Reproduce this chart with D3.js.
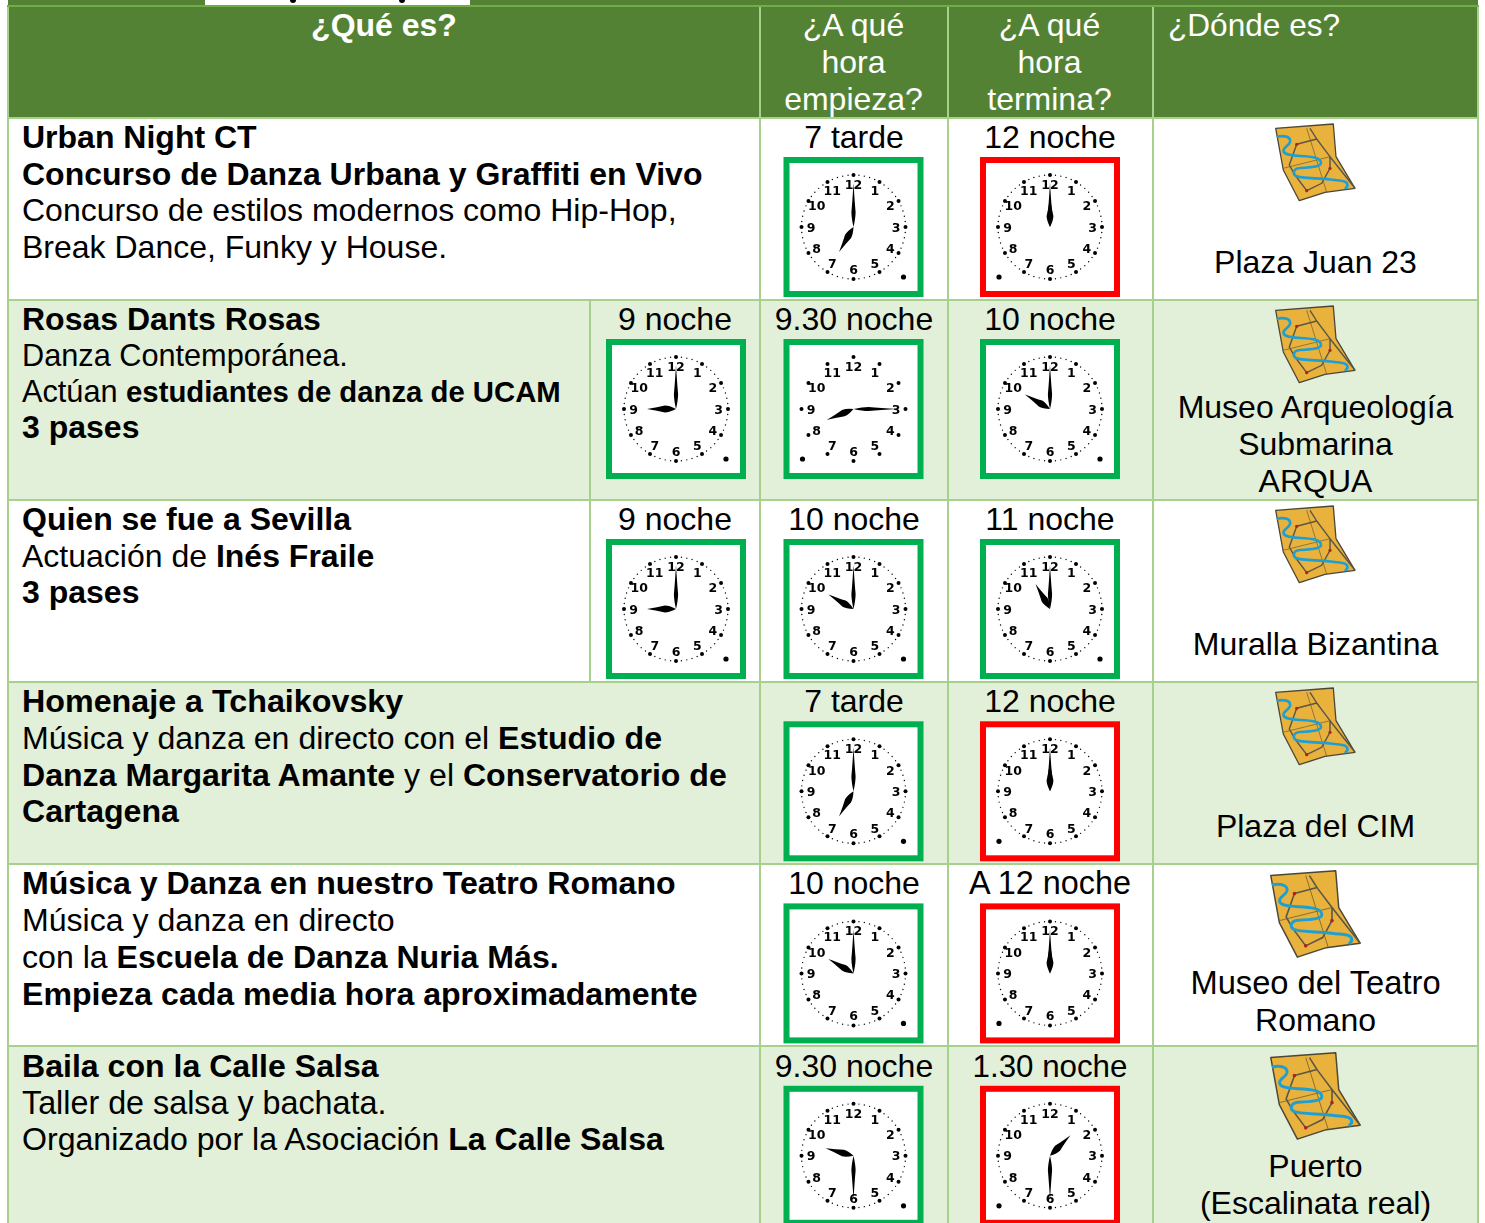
<!DOCTYPE html>
<html>
<head>
<meta charset="utf-8">
<script src="https://cdn.jsdelivr.net/npm/d3@7"></script>
<style>
  html, body { margin: 0; padding: 0; background: #fff; }
  svg { display: block; }
  text { font-family: "Liberation Sans", Arial, sans-serif; }
  .num { font-family: "DejaVu Sans", sans-serif; font-weight: bold; }
</style>
</head>
<body>
<svg id="chart"></svg>
<script>
const headers = ['¿Qué es?', '¿A qué|hora|empieza?', '¿A qué|hora|termina?', '¿Dónde es?'];

// ** marks the bold runs
const titles = [
  ['**Urban Night CT', '**Concurso de Danza Urbana y Graffiti en Vivo', 'Concurso de estilos modernos como Hip-Hop,', 'Break Dance, Funky y House.'],
  ['**Rosas Dants Rosas', 'Danza Contemporánea.', 'Actúan **estudiantes de danza de UCAM', '**3 pases'],
  ['**Quien se fue a Sevilla', 'Actuación de **Inés Fraile', '**3 pases'],
  ['**Homenaje a Tchaikovsky', 'Música y danza en directo con el **Estudio de', '**Danza Margarita Amante** y el **Conservatorio de', '**Cartagena'],
  ['**Música y Danza en nuestro Teatro Romano', 'Música y danza en directo', 'con la **Escuela de Danza Nuria Más.', '**Empieza cada media hora aproximadamente'],
  ['**Baila con la Calle Salsa', 'Taller de salsa y bachata.', 'Organizado por la Asociación **La Calle Salsa']
];
const places = [
  ['Plaza Juan 23'],
  ['Museo Arqueología', 'Submarina', 'ARQUA'],
  ['Muralla Bizantina'],
  ['Plaza del CIM'],
  ['Museo del Teatro', 'Romano'],
  ['Puerto', '(Escalinata real)']
];
// [label, hour, minute, side of the dot]
const extraClocks = [null, ['9 noche', 9, 0, 'r'], ['9 noche', 9, 0, 'r'], null, null, null];
const startClocks = [['7 tarde', 7, 0, 'r'], ['9.30 noche', 8, 15, 'l'], ['10 noche', 10, 0, 'r'], ['7 tarde', 7, 0, 'r'], ['10 noche', 10, 0, 'r'], ['9.30 noche', 9, 30, 'r']];
const endClocks = [['12 noche', 12, 0, 'l'], ['10 noche', 10, 0, 'r'], ['11 noche', 11, 0, 'r'], ['12 noche', 12, 0, 'l'], ['A 12 noche', 12, 0, 'l'], ['1.30 noche', 1, 30, 'l']];
const frameColors = [
  ['#00b050', '#ff0000'], ['#00b050', '#00b050'], ['#00b050', '#00b050'],
  ['#00b050', '#ff0000'], ['#00b050', '#ff0000'], ['#00b050', '#ff0000']
];
const rowEdges = [118, 300, 500, 682, 864, 1046, 1228];
const colEdges = [8, 760, 948, 1153, 1478];

const width = 1485, height = 1223;
const green = '#548235', line = '#a8d08d', tint = '#e2efd9';

// type sizes and line steps drift a little from row to row in the source
const rowFont = [32, 32, 32, 32.1, 32.1, 32.1];
const rowStep = [36.7, 36, 36.6, 36.6, 37, 36.7];
const rowNudge = [0, 0, 0, 0.3, 0.4, 0.8];
const runSizes = {
  'Danza Contemporánea.': 30.7,
  'Actúan ': 30.7,
  'estudiantes de danza de UCAM': 29.3,
  'Homenaje a Tchaikovsky': 32.25,
  'Taller de salsa y bachata.': 32.3,
  '1.30 noche': 31.3,
  'A 12 noche': 32.4,
  'Museo del Teatro': 32.7,
  '¿Dónde es?': 31.6
};
const sizeOf = (t, fallback) => runSizes[t] || fallback;

const svg = d3.select('#chart').attr('width', width).attr('height', height);

svg.append('defs').append('filter').attr('id', 'soft')
  .append('feGaussianBlur').attr('stdDeviation', 0.3);

const angle = d3.scaleLinear().domain([0, 12]).range([0, 360]);
const minuteAngle = d3.scaleLinear().domain([0, 60]).range([0, 360]);
const hands = {
  hour: { len: 29, wide: 3.4, at: 11 },
  minute: { len: 44, wide: 2.1, at: 15 }
};

function handPath(h) {
  const p = d3.path();
  p.moveTo(0, 0);
  p.quadraticCurveTo(h.wide, -h.at * 0.6, h.wide, -h.at);
  p.quadraticCurveTo(h.wide * 0.5, -h.at - (h.len - h.at) * 0.4, 0, -h.len);
  p.quadraticCurveTo(-h.wide * 0.5, -h.at - (h.len - h.at) * 0.4, -h.wide, -h.at);
  p.quadraticCurveTo(-h.wide, -h.at * 0.6, 0, 0);
  p.closePath();
  return p.toString();
}

function drawClock(g, cx, cy, color, c) {
  const [, hour, minute, side] = c;
  const clock = g.append('g').attr('transform', `translate(${cx},${cy})`);
  clock.append('rect')
    .attr('x', -67).attr('y', -67).attr('width', 134).attr('height', 134)
    .attr('fill', '#fff').attr('stroke', color).attr('stroke-width', 6);

  const polar = (deg, r) => [r * Math.sin(deg * Math.PI / 180), -r * Math.cos(deg * Math.PI / 180)];
  const face = clock.append('g').attr('filter', 'url(#soft)');

  // the 9.30 clock in row 2 was pasted without its minute dots
  const bare = hour === 8 && minute === 15;
  face.selectAll('.tick').data(bare ? d3.range(0, 60, 5) : d3.range(60)).enter().append('circle')
    .attr('cx', d => polar(minuteAngle(d), 52)[0])
    .attr('cy', d => polar(minuteAngle(d), 52)[1])
    .attr('r', d => d % 5 === 0 ? 2 : 0.7)
    .attr('fill', '#000');

  face.selectAll('.num').data(d3.range(1, 13)).enter().append('text')
    .attr('class', 'num')
    .attr('x', d => polar(angle(d), 42.5)[0])
    .attr('y', d => polar(angle(d), 42.5)[1] + 4.5)
    .attr('text-anchor', 'middle')
    .attr('font-size', 12.5)
    .attr('fill', '#000')
    .text(d => d);

  face.append('circle').attr('cx', side === 'r' ? 50 : -51).attr('cy', 50).attr('r', 2.6).attr('fill', '#000');

  face.append('path').attr('d', handPath(hands.hour))
    .attr('transform', `rotate(${angle(hour % 12 + minute / 60)})`);
  face.append('path').attr('d', handPath(hands.minute))
    .attr('transform', `rotate(${minuteAngle(minute)})`);
}

function drawMap(g, x, y, k) {
  const m = g.append('g').attr('filter', 'url(#soft)')
    .attr('transform', `translate(${x},${y}) scale(${k}) translate(-20,-9)`);
  m.append('path')
    .attr('d', 'M20.7 13.3 L78.3 9 L81 41.7 L100 73.3 L70 77.3 L44.3 85.7 L28.3 55 Z')
    .attr('fill', '#e8b23c').attr('stroke', '#4a4638').attr('stroke-width', 1.3).attr('stroke-linejoin', 'round');
  m.append('path')
    .attr('d', 'M51.7 13.3 L71.7 77.3 M28.3 53.3 L75 41.7')
    .attr('fill', 'none').attr('stroke', '#6b5e30').attr('stroke-width', 0.7);
  m.append('path')
    .attr('d', 'M41.7 29.3 L61.7 24 L55 13.3 M61.7 24 L75 41.7 L75 53.3 L66.7 68.3 L51.7 75.7 L40 60 L34.3 50 L41.7 29.3 M75 41.7 L100 73.3')
    .attr('fill', 'none').attr('stroke', '#5a5648').attr('stroke-width', 1.4);
  m.append('path')
    .attr('d', 'M21.7 21.7 C30 20 36 22 35 27 C34 31 28 32 28.5 36 C29 40 37 40.5 45 41 C55 41.5 66 42 66 48 C66 52 55 52.5 45 53 C38 53.5 37.5 59 41 61 C46 63.5 62 63 75 64.5 C86 66 93 65 92.5 71 L90 74')
    .attr('fill', 'none').attr('stroke', '#1f9fd2').attr('stroke-width', 2.6);
  m.selectAll('circle').data([[41.7, 29.3], [75, 53.3], [51.7, 75.7]]).enter().append('circle')
    .attr('cx', d => d[0]).attr('cy', d => d[1]).attr('r', 1.6).attr('fill', '#b5201c');
}

function addRuns(el, str, base) {
  str.split('**').forEach((run, i) => {
    if (!run) return;
    el.append('tspan')
      .attr('font-weight', i % 2 === 1 ? 'bold' : 'normal')
      .attr('font-size', sizeOf(run, base))
      .text(run);
  });
}

// strip above the table, cut from the previous page
svg.append('rect').attr('x', 8).attr('y', 0).attr('width', 1470).attr('height', 6).attr('fill', green);
svg.append('rect').attr('x', 205).attr('y', 0).attr('width', 265).attr('height', 6).attr('fill', '#fff');
svg.selectAll('.desc').data([293, 402]).enter().append('circle')
  .attr('class', 'desc').attr('cx', d => d).attr('cy', 0).attr('r', 3).attr('fill', '#000');

// header
svg.append('rect').attr('x', colEdges[0]).attr('y', 6).attr('width', colEdges[4] - colEdges[0]).attr('height', 112).attr('fill', green);
const headerCenters = [384, 853.5, 1049.5, null];

// rows
titles.forEach((lines, i) => {
  const top = rowEdges[i], bottom = rowEdges[i + 1];
  const nudge = rowNudge[i];
  const row = svg.append('g');
  row.append('rect').attr('x', colEdges[0]).attr('y', top).attr('width', colEdges[4] - colEdges[0]).attr('height', bottom - top)
    .attr('fill', i % 2 === 1 ? tint : '#fff');

  lines.forEach((t, j) => {
    const el = row.append('text').attr('x', 22).attr('y', top + nudge + 30 + j * rowStep[i]).attr('fill', '#000');
    addRuns(el, t, rowFont[i]);
  });

  const label = (cx, text) => row.append('text').attr('x', cx).attr('y', top + nudge + 30)
    .attr('text-anchor', 'middle').attr('font-size', sizeOf(text, 32)).attr('fill', '#000').text(text);

  const clockY = top + 109 + nudge;
  if (extraClocks[i]) {
    label(675, extraClocks[i][0]);
    drawClock(row, 676, clockY, '#00b050', extraClocks[i]);
  }
  label(854, startClocks[i][0]);
  drawClock(row, 853.5, clockY, frameColors[i][0], startClocks[i]);
  label(1050, endClocks[i][0]);
  drawClock(row, 1050, clockY, frameColors[i][1], endClocks[i]);

  const big = i >= 4;
  drawMap(row, big ? 1270 : 1275, top + (big ? 6.7 : 6), big ? 1.127 : 1);
  const n = places[i].length;
  places[i].forEach((t, j) => {
    const lastBase = i === 0 || i === 2 || i === 3 ? top + 155 : i === 1 ? top + 192 : top + 167;
    row.append('text').attr('x', 1315.5).attr('y', lastBase + nudge - (n - 1 - j) * 37)
      .attr('text-anchor', 'middle').attr('font-size', sizeOf(t, 32)).attr('fill', '#000').text(t);
  });
});

// grid lines
const grid = svg.append('g').attr('stroke', line).attr('stroke-width', 2).attr('fill', 'none');
rowEdges.slice(0, 6).forEach(y => {
  grid.append('line').attr('x1', colEdges[0]).attr('x2', colEdges[4]).attr('y1', y).attr('y2', y);
});
colEdges.forEach(x => {
  grid.append('line').attr('x1', x).attr('x2', x).attr('y1', 6).attr('y2', height);
});
[[300, 500], [500, 682]].forEach(([a, b]) => {
  grid.append('line').attr('x1', 590).attr('x2', 590).attr('y1', a).attr('y2', b);
});
svg.append('line').attr('x1', colEdges[0] - 1).attr('x2', colEdges[4] + 1).attr('y1', 6).attr('y2', 6)
  .attr('stroke', '#70ad47').attr('stroke-width', 2);

// header text last, the descender of "empieza?" reaches the grid line
headers.forEach((h, i) => {
  h.split('|').forEach((t, j) => {
    svg.append('text')
      .attr('x', i === 3 ? 1168 : headerCenters[i])
      .attr('y', 36 + j * 36.85)
      .attr('text-anchor', i === 3 ? 'start' : 'middle')
      .attr('font-size', sizeOf(t, 32))
      .attr('font-weight', i === 0 ? 'bold' : 'normal')
      .attr('fill', '#fff')
      .text(t);
  });
});
</script>
</body>
</html>
